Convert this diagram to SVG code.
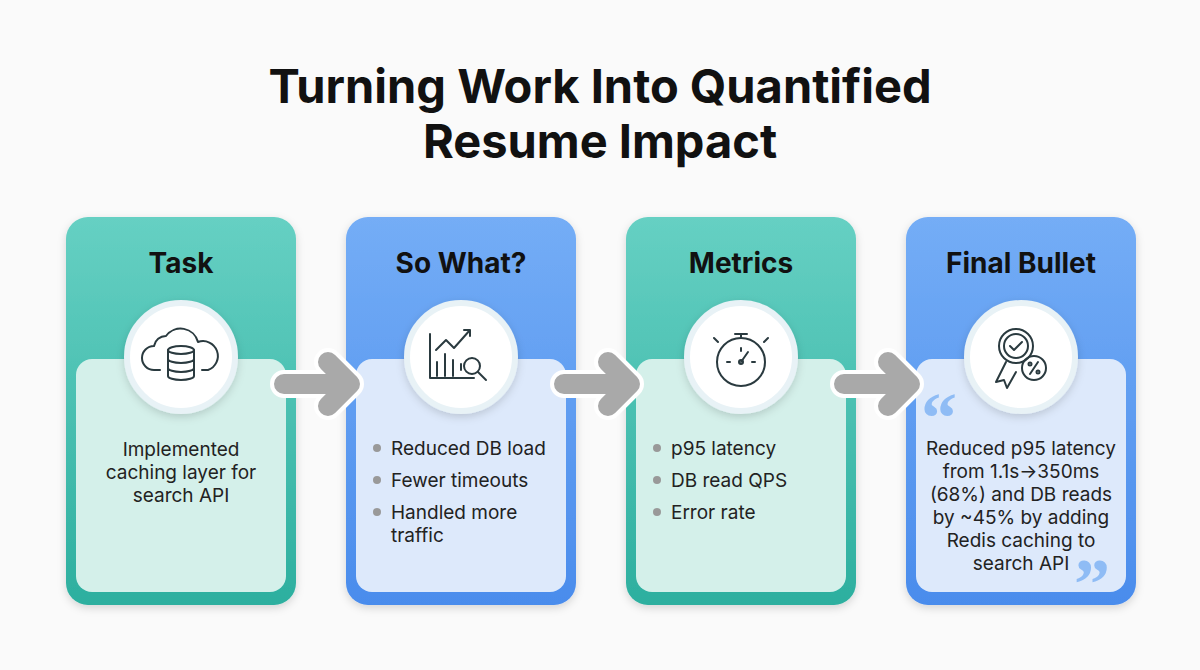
<svg xmlns="http://www.w3.org/2000/svg" width="1200" height="670" viewBox="0 0 1200 670">
<defs>
<linearGradient id="gt" x1="0" y1="0" x2="0" y2="1"><stop offset="0" stop-color="#66d0c3"/><stop offset="1" stop-color="#2daf9f"/></linearGradient>
<linearGradient id="gb" x1="0" y1="0" x2="0" y2="1"><stop offset="0" stop-color="#74adf6"/><stop offset="1" stop-color="#4a8cec"/></linearGradient>
<filter id="sh" x="-20%" y="-20%" width="140%" height="140%"><feDropShadow dx="0" dy="3" stdDeviation="4" flood-color="#000" flood-opacity="0.15"/></filter>
</defs>
<style>
.title{font-family:Inter,"Liberation Sans",sans-serif;font-weight:700;font-size:47px;fill:#111;text-anchor:middle}
.h{font-family:Inter,"Liberation Sans",sans-serif;font-weight:700;font-size:28px;fill:#111;text-anchor:middle}
.t{font-family:Inter,"Liberation Sans",sans-serif;font-size:19px;fill:#222}
.c{text-anchor:middle}
.ti{fill:#d4f0ea}.bi{fill:#dde9fb}
.circ{fill:#fff;stroke:#e8f2f6;stroke-width:6;filter:url(#sh)}
.ic{fill:none;stroke:#2a3a3f;stroke-width:2;stroke-linecap:round;stroke-linejoin:round}
.dot{fill:#999}
.arr{fill:none;stroke:#a9a9a9;stroke-width:20;stroke-linecap:round;stroke-linejoin:round}
.arrb{fill:none;stroke:#fff;stroke-width:28;stroke-linecap:round;stroke-linejoin:round}
.q{font-family:"Liberation Serif",serif;font-weight:700;font-size:72px;fill:#8fbcf5}
</style>
<rect width="1200" height="670" fill="#fafafa"/>
<text class="title" x="600" y="103">Turning Work Into Quantified</text>
<text class="title" x="600" y="158">Resume Impact</text>

<g id="task">
<rect x="66" y="217" width="230" height="388" rx="22" fill="url(#gt)" filter="url(#sh)"/>
<rect class="ti" x="76" y="359" width="210" height="233" rx="16"/>
<text class="h" x="181" y="273">Task</text>
<circle class="circ" cx="181" cy="357" r="54"/>
<path class="ic" d="M160 370 h-6 a12 12 0 0 1 0 -24 a12 12 0 0 1 12 -10 a18 18 0 0 1 32 6 a14 14 0 0 1 10 28 h-6"/>
<g class="ic"><ellipse cx="181" cy="350" rx="13" ry="4"/><path d="M168 350 v26 a13 4 0 0 0 26 0 v-26 M168 359 a13 4 0 0 0 26 0 M168 368 a13 4 0 0 0 26 0"/></g>
<text class="t c" x="181" y="456">Implemented</text>
<text class="t c" x="181" y="479">caching layer for</text>
<text class="t c" x="181" y="502">search API</text>
</g>

<g id="sowhat">
<rect x="346" y="217" width="230" height="388" rx="22" fill="url(#gb)" filter="url(#sh)"/>
<rect class="bi" x="356" y="359" width="210" height="233" rx="16"/>
<text class="h" x="461" y="273">So What?</text>
<circle class="circ" cx="461" cy="357" r="54"/>
<g class="ic"><path d="M430 334 v44 h44"/><path d="M437 376 v-14 M445 376 v-22 M453 376 v-16 M461 370 v-6"/><path d="M436 350 l10 -10 l8 8 l16 -18 M464 330 h6 v6"/><circle cx="472" cy="366" r="8"/><path d="M478 372 l8 8"/></g>
<circle class="dot" cx="377" cy="448" r="4"/><text class="t" x="391" y="455">Reduced DB load</text>
<circle class="dot" cx="377" cy="480" r="4"/><text class="t" x="391" y="487">Fewer timeouts</text>
<circle class="dot" cx="377" cy="512" r="4"/><text class="t" x="391" y="519">Handled more</text>
<text class="t" x="391" y="542">traffic</text>
</g>

<g id="metrics">
<rect x="626" y="217" width="230" height="388" rx="22" fill="url(#gt)" filter="url(#sh)"/>
<rect class="ti" x="636" y="359" width="210" height="233" rx="16"/>
<text class="h" x="741" y="273">Metrics</text>
<circle class="circ" cx="741" cy="357" r="54"/>
<g class="ic"><circle cx="741" cy="362" r="24"/><path d="M735 334 h12 M741 334 v4 M718 342 l-4 -4 M764 342 l4 -4"/><path d="M741 362 l7 -10"/><circle cx="741" cy="362" r="2"/><path d="M727 362 h3 M752 362 h3 M741 348 v3"/></g>
<circle class="dot" cx="657" cy="448" r="4"/><text class="t" x="671" y="455">p95 latency</text>
<circle class="dot" cx="657" cy="480" r="4"/><text class="t" x="671" y="487">DB read QPS</text>
<circle class="dot" cx="657" cy="512" r="4"/><text class="t" x="671" y="519">Error rate</text>
</g>

<g id="final">
<rect x="906" y="217" width="230" height="388" rx="22" fill="url(#gb)" filter="url(#sh)"/>
<rect class="bi" x="916" y="359" width="210" height="233" rx="16"/>
<text class="h" x="1021" y="273">Final Bullet</text>
<circle class="circ" cx="1021" cy="357" r="54"/>
<g class="ic"><circle cx="1016" cy="346" r="17"/><circle cx="1016" cy="346" r="12"/><path d="M1010 346 l4 4 l8 -8"/><path d="M1006 362 l-10 20 l8 -2 l3 8 l9 -16"/><circle cx="1034" cy="368" r="12"/><path d="M1030 374 l8 -12"/><circle cx="1030" cy="364" r="1.5"/><circle cx="1038" cy="372" r="1.5"/></g>
<text class="q" x="921" y="442">“</text>
<text class="q" x="1074" y="608">”</text>
<text class="t c" x="1021" y="455">Reduced p95 latency</text>
<text class="t c" x="1021" y="478">from 1.1s→350ms</text>
<text class="t c" x="1021" y="501">(68%) and DB reads</text>
<text class="t c" x="1021" y="524">by ~45% by adding</text>
<text class="t c" x="1021" y="547">Redis caching to</text>
<text class="t c" x="1021" y="570">search API</text>
</g>

<g id="connectors">
<path class="arrb" d="M284 384 h60 M328 362 l22 22 l-22 22"/>
<path class="arr" d="M284 384 h60 M328 362 l22 22 l-22 22"/>
<path class="arrb" d="M564 384 h60 M608 362 l22 22 l-22 22"/>
<path class="arr" d="M564 384 h60 M608 362 l22 22 l-22 22"/>
<path class="arrb" d="M844 384 h60 M888 362 l22 22 l-22 22"/>
<path class="arr" d="M844 384 h60 M888 362 l22 22 l-22 22"/>
</g>
</svg>
